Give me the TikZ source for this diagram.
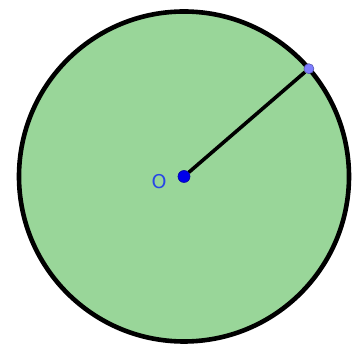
\documentclass[tikz,border=0pt]{standalone}
\usepackage{fontspec}
\setsansfont{DejaVu Sans}
\usepackage{tikz}
\usetikzlibrary{calc}
\definecolor{diskgreen}{RGB}{153, 214, 153}
\definecolor{ptblue}{RGB}{0, 0, 235}
\definecolor{ptlight}{RGB}{125, 125, 255}
\definecolor{labelblue}{RGB}{40, 70, 230}

\begin{document}
\begin{tikzpicture}[x=1pt, y=1pt,
                    dot/.style={circle, inner sep=0pt, line width=0.6pt}]
  \useasboundingbox (0,0) rectangle (360,345);
  \coordinate (O) at (184,168.5);
  \coordinate (P) at ($(O)+(40.8:165)$);

  % disk
  \draw[line width=4.6pt, fill=diskgreen] (O) circle[radius=165];

  \node[dot, fill=ptblue, draw=ptblue!70!black, minimum size=12pt] (o) at (O) {};
  \node[dot, fill=ptlight, draw=ptlight!70!black, minimum size=10pt] (p) at (P) {};
  \draw[line width=3.6pt] (o) -- (p);

  \node[font=\sffamily\fontsize{19}{22}\selectfont, text=labelblue] (olabel) at (159,163.5) {O};
\end{tikzpicture}
\end{document}
